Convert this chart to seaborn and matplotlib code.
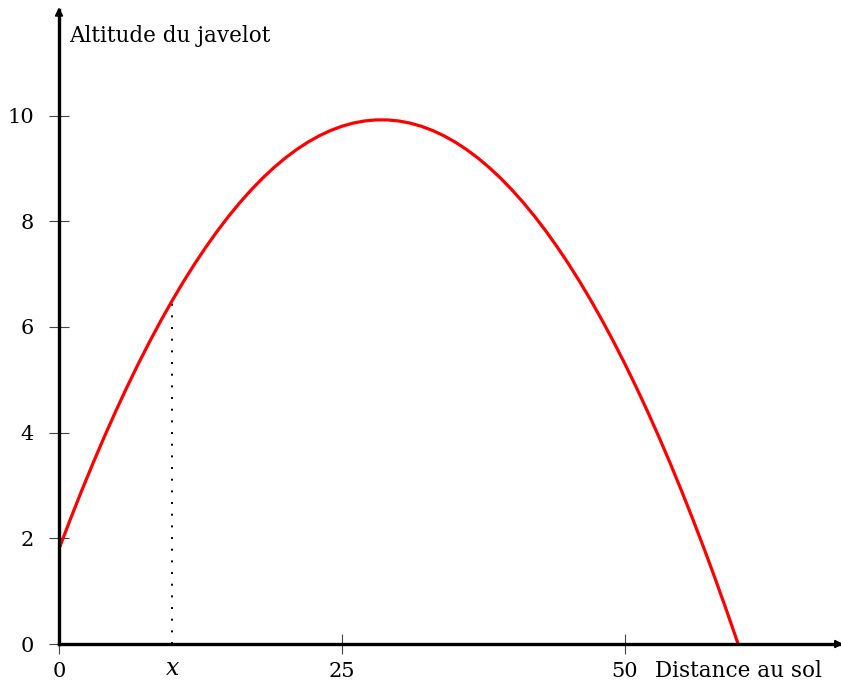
import numpy as np
import pandas as pd
import seaborn as sns
import matplotlib.pyplot as plt

# Trajectory (distance, altitude), one point per metre
distance = list(range(0, 61))
altitude = [1.80, 2.36, 2.90, 3.42, 3.92, 4.40, 4.86, 5.30, 5.72, 6.12,
            6.50, 6.86, 7.20, 7.52, 7.82, 8.10, 8.36, 8.60, 8.82, 9.02,
            9.20, 9.36, 9.50, 9.62, 9.72, 9.80, 9.86, 9.90, 9.92, 9.92,
            9.90, 9.86, 9.80, 9.72, 9.62, 9.50, 9.36, 9.20, 9.02, 8.82,
            8.60, 8.36, 8.10, 7.82, 7.52, 7.20, 6.86, 6.50, 6.12, 5.72,
            5.30, 4.86, 4.40, 3.92, 3.42, 2.90, 2.36, 1.80, 1.22, 0.62,
            0.00]

x_marked = 10
y_marked = 6.5
xticks = [0, 25, 50]
yticks = [0, 2, 4, 6, 8, 10]

sns.set_style('white')
plt.rcParams['font.family'] = ['DejaVu Serif']
plt.rcParams['mathtext.fontset'] = 'dejavuserif'
plt.rcParams['text.color'] = 'black'
plt.rcParams['xtick.labelcolor'] = 'black'
plt.rcParams['ytick.labelcolor'] = 'black'

fig = plt.figure(figsize=(8.41, 6.84), dpi=100)
ax = fig.add_axes([59 / 841, 40 / 684, 781 / 841, 634 / 684])
ax.set_xlim(0, 69)
ax.set_ylim(0, 12.0)

df = pd.DataFrame({'distance': distance, 'altitude': altitude})
sns.lineplot(data=df, x='distance', y='altitude', color='#ff0000', lw=2.3,
             sort=False, ax=ax, zorder=3)

# dotted guide at x
ax.plot([x_marked, x_marked], [0, y_marked], color='black', lw=1.4,
        linestyle=(0, (1, 5)), zorder=2)

for s in ['top', 'right']:
    ax.spines[s].set_visible(False)
for s in ['left', 'bottom']:
    ax.spines[s].set_linewidth(2.4)
    ax.spines[s].set_color('black')
    ax.spines[s].set_zorder(4)

# arrow heads
ax.annotate('', xy=(69.3, 0), xytext=(68, 0), annotation_clip=False,
            arrowprops=dict(arrowstyle='-|>', color='black', lw=1.2,
                            mutation_scale=12, shrinkA=0, shrinkB=0))
ax.annotate('', xy=(0, 12.05), xytext=(0, 11.6), annotation_clip=False,
            arrowprops=dict(arrowstyle='-|>', color='black', lw=1.2,
                            mutation_scale=12, shrinkA=0, shrinkB=0))

ax.set_xticks(xticks)
ax.set_yticks(yticks)
ax.set_xticklabels([str(t) for t in xticks])
ax.set_yticklabels([str(t) for t in yticks])
ax.tick_params(direction='inout', length=14, width=0.8, color='#444444',
               labelsize=15, left=True, bottom=True)
ax.tick_params(axis='y', pad=11)
ax.tick_params(axis='x', pad=6)
ax.set_xlabel('')
ax.set_ylabel('')

ax.text(x_marked, -0.25, '$x$', ha='center', va='top', fontsize=17)
ax.text(60, -0.3, 'Distance au sol', ha='center', va='top', fontsize=15.5)
ax.text(0.9, 11.5, 'Altitude du javelot', ha='left', va='center', fontsize=15.5)

fig.savefig('out.png', dpi=100)
